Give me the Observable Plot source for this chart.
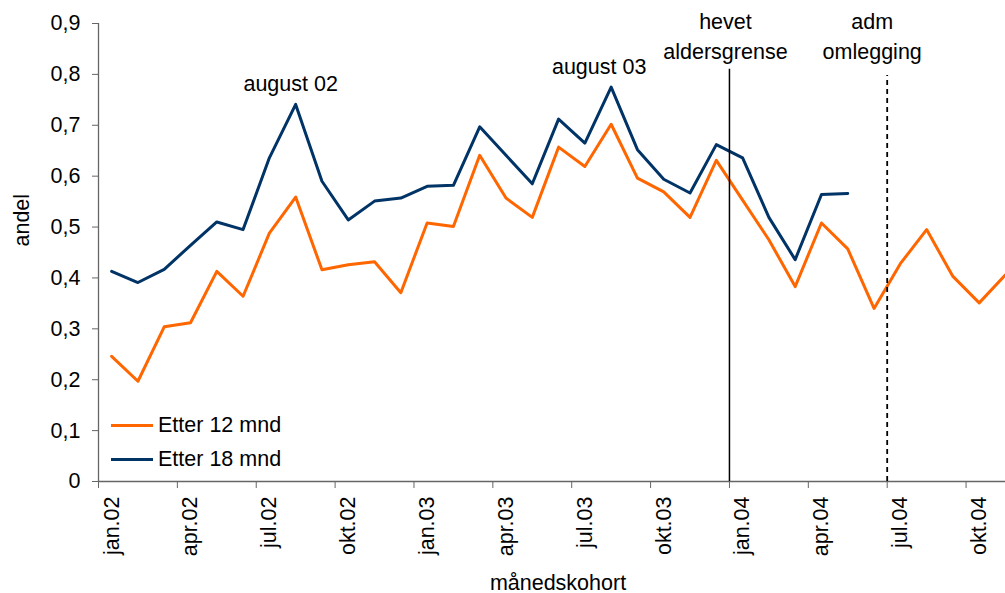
<!DOCTYPE html>
<html>
<head>
<meta charset="utf-8">
<script src="https://cdn.jsdelivr.net/npm/d3@7"></script>
<script src="https://cdn.jsdelivr.net/npm/@observablehq/plot@0.6"></script>
<style>
  html, body { margin: 0; padding: 0; background: #fff; overflow: hidden; }
  #wrap { position: relative; width: 1005px; height: 593px; font-family: "Liberation Sans", Arial, sans-serif; }
  .legend { position: absolute; left: 111px; top: 408px; font-size: 21.5px; color: #000; }
  .legend .item { display: flex; align-items: center; height: 34px; }
  .legend .sw { width: 42px; height: 3px; margin-right: 5px; }
</style>
</head>
<body>
<div id="wrap"></div>
<script>
const months = ["jan.02","feb.02","mar.02","apr.02","mai.02","jun.02","jul.02","aug.02","sep.02","okt.02","nov.02","des.02",
                "jan.03","feb.03","mar.03","apr.03","mai.03","jun.03","jul.03","aug.03","sep.03","okt.03","nov.03","des.03",
                "jan.04","feb.04","mar.04","apr.04","mai.04","jun.04","jul.04","aug.04","sep.04","okt.04","nov.04"];
const etter12 = [0.246,0.197,0.304,0.312,0.413,0.364,0.488,0.559,0.416,0.426,0.432,0.371,
                 0.508,0.501,0.641,0.557,0.519,0.657,0.619,0.702,0.596,0.569,0.519,0.631,
                 0.553,0.475,0.383,0.508,0.457,0.340,0.428,0.495,0.403,0.351,0.406];
const etter18 = [0.413,0.391,0.417,0.464,0.510,0.495,0.636,0.741,0.590,0.514,0.551,0.557,
                 0.580,0.582,0.697,0.641,0.585,0.712,0.665,0.775,0.652,0.594,0.567,0.662,
                 0.636,0.519,0.436,0.564,0.566];
const seriesNames = ["Etter 12 mnd","Etter 18 mnd"];
const seriesColors = ["#FF6600","#003366"];
const tickLabels = ["jan.02","apr.02","jul.02","okt.02","jan.03","apr.03","jul.03","okt.03","jan.04","apr.04","jul.04","okt.04"];
const yTicks = [0,0.1,0.2,0.3,0.4,0.5,0.6,0.7,0.8,0.9];
const peaks = [{month:"aug.02", label:"august 02"},{month:"aug.03", label:"august 03"}];
const events = [{month:"jan.04", label:"hevet\naldersgrense"},{month:"jul.04", label:"adm\nomlegging"}];

const rows = [
  ...etter12.map((v,i)=>({i, series: seriesNames[0], v})),
  ...etter18.map((v,i)=>({i, series: seriesNames[1], v}))
];
const idx = m => months.indexOf(m);
const nb = d3.formatLocale({decimal:",", thousands:" ", grouping:[3], currency:["",""]}).format(".1~f");
const labelIdx = tickLabels.map(idx);
const boundaries = labelIdx.map(i => i - 0.5);

const chart = Plot.plot({
  width: 1005, height: 593,
  marginLeft: 98, marginRight: 0, marginTop: 23, marginBottom: 112,
  style: {fontFamily: "'Liberation Sans', Arial, sans-serif", fontSize: "21.5px", color: "#000", background: "white"},
  x: {domain: [-0.5, months.length - 1], axis: null},
  y: {domain: [0, 0.9], axis: null},
  color: {domain: seriesNames, range: seriesColors},
  marks: [
    Plot.axisY({ticks: yTicks, tickFormat: nb, tickSize: 6, tickPadding: 12, stroke: "#666", label: null}),
    Plot.axisX({ticks: boundaries, tickFormat: () => "", tickSize: 7, stroke: "#666", label: null}),
    Plot.axisX({ticks: labelIdx, tickFormat: i => months[i], tickSize: 0, tickPadding: 15, tickRotate: -90, label: null}),
    Plot.ruleY([0], {stroke: "#666", strokeWidth: 1.3}),
    Plot.ruleX([-0.5], {y1: 0, y2: 0.9, stroke: "#666", strokeWidth: 1.3}),
    Plot.line(rows, {x: "i", y: "v", z: "series", stroke: "series", strokeWidth: 3}),
    Plot.ruleX(events.slice(0,1), {x: d => idx(d.month) - 0.5, y1: 0, y2: 0.81, stroke: "#000", strokeWidth: 1.5}),
    Plot.ruleX(events.slice(1), {x: d => idx(d.month) - 0.5, y1: 0, y2: 0.798, stroke: "#000", strokeWidth: 1.8, strokeDasharray: "5,4"}),
    Plot.text(events.slice(0,1), {x: d => idx(d.month) - 0.5, frameAnchor: "top", text: "label", lineAnchor: "top", lineHeight: 1.4, dy: -16, dx: -4, fill: "#000"}),
    Plot.text(events.slice(1), {x: d => idx(d.month) - 0.5, frameAnchor: "top", text: "label", lineAnchor: "top", lineHeight: 1.4, dy: -16, dx: -15, fill: "#000"}),
    Plot.text(peaks.slice(0,1), {x: d => idx(d.month), y: d => etter18[idx(d.month)], text: "label", lineAnchor: "bottom", dy: -13, dx: -5, fill: "#000"}),
    Plot.text(peaks.slice(1), {x: d => idx(d.month), y: d => etter18[idx(d.month)], text: "label", lineAnchor: "bottom", dy: -13, dx: -12, fill: "#000"}),
    Plot.text(["andel"], {frameAnchor: "left", rotate: -90, dx: -76, dy: -6, fill: "#000"}),
    Plot.text(["månedskohort"], {frameAnchor: "bottom", lineAnchor: "bottom", dx: 6, dy: 108, fill: "#000"})
  ]
});
const wrap = document.getElementById("wrap");
wrap.appendChild(chart);
const legend = document.createElement("div");
legend.className = "legend";
seriesNames.forEach((name, k) => {
  const item = document.createElement("div");
  item.className = "item";
  const sw = document.createElement("div");
  sw.className = "sw";
  sw.style.background = seriesColors[k];
  const t = document.createElement("span");
  t.textContent = name;
  item.appendChild(sw); item.appendChild(t);
  legend.appendChild(item);
});
wrap.appendChild(legend);
</script>
</body>
</html>
